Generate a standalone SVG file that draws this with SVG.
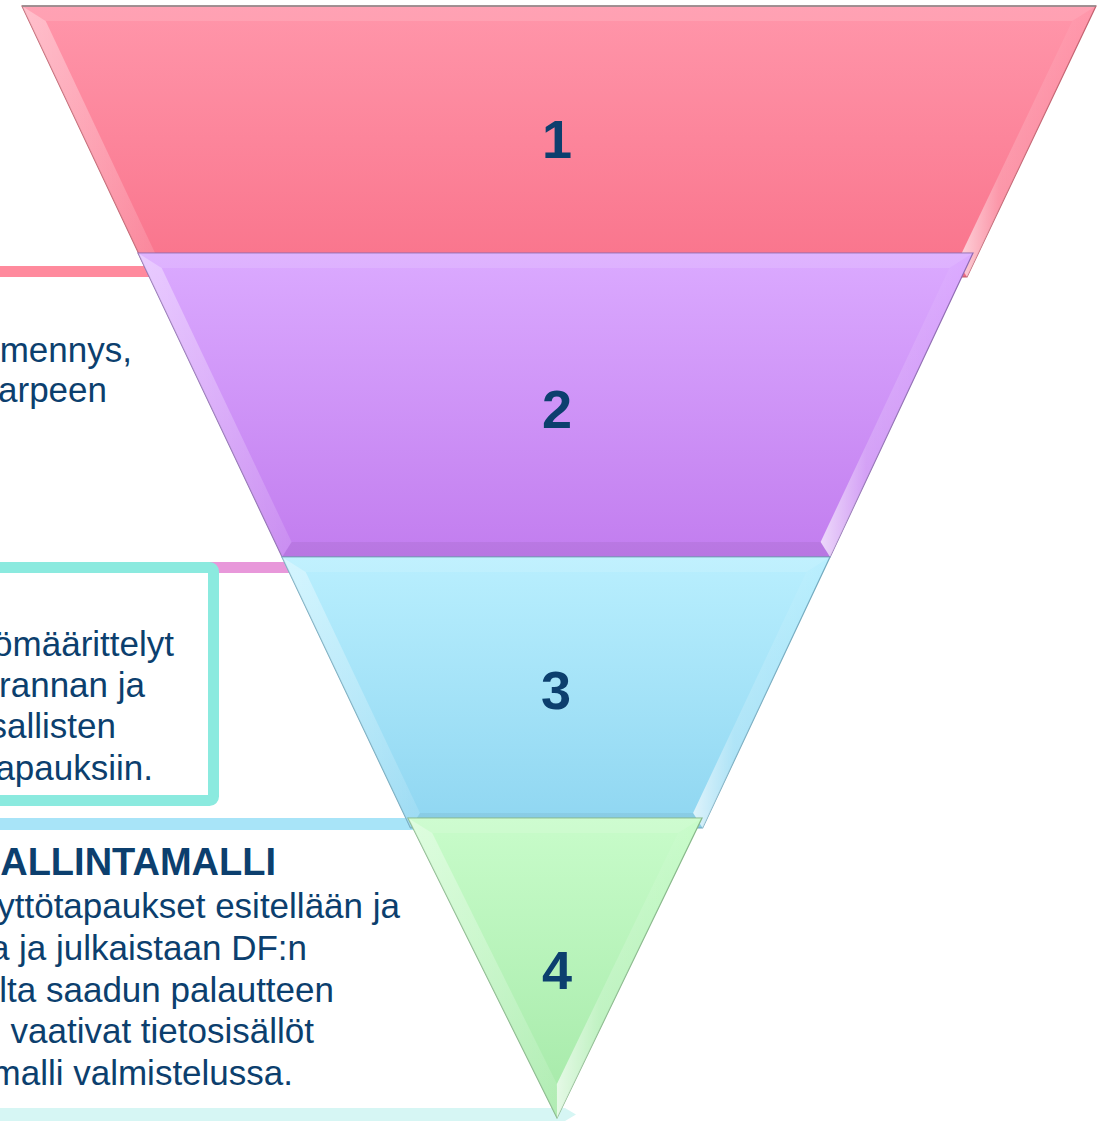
<svg xmlns="http://www.w3.org/2000/svg" width="1102" height="1121" viewBox="0 0 1102 1121">
<defs>
<linearGradient id="gPink" x1="0" y1="0" x2="0" y2="1"><stop offset="0" stop-color="#FF96AA"/><stop offset="1" stop-color="#F9738B"/></linearGradient>
<linearGradient id="gPurple" x1="0" y1="0" x2="0" y2="1"><stop offset="0" stop-color="#DBAAFF"/><stop offset="1" stop-color="#C27DEF"/></linearGradient>
<linearGradient id="gCyan" x1="0" y1="0" x2="0" y2="1"><stop offset="0" stop-color="#B9EFFE"/><stop offset="1" stop-color="#8FD6F1"/></linearGradient>
<linearGradient id="gGreen" x1="0" y1="0" x2="0" y2="1"><stop offset="0" stop-color="#C8FCCA"/><stop offset="1" stop-color="#A5E9A8"/></linearGradient>
<linearGradient id="gL" x1="0" y1="0" x2="1" y2="0"><stop offset="0" stop-color="#fff" stop-opacity="0.4"/><stop offset="1" stop-color="#fff" stop-opacity="0.12"/></linearGradient>
<linearGradient id="gR" x1="0" y1="0" x2="1" y2="0"><stop offset="0" stop-color="#fff" stop-opacity="0.7"/><stop offset="0.3" stop-color="#fff" stop-opacity="0.2"/><stop offset="1" stop-color="#fff" stop-opacity="0"/></linearGradient>
<style>
.txt{font-family:"Liberation Sans",Arial,sans-serif;font-size:35px;fill:#0C3F6E;text-anchor:end}
.ttl{font-family:"Liberation Sans",Arial,sans-serif;font-size:38px;font-weight:bold;fill:#0C3F6E;text-anchor:end}
.num{font-family:"Liberation Sans",Arial,sans-serif;font-size:54px;font-weight:bold;fill:#0C3F6E;text-anchor:middle}
.ft{fill:#fff;opacity:.12}
.fl{fill:url(#gL)}
.fr{fill:url(#gR)}
.fb{fill:#000;opacity:.05}
</style>
</defs>
<rect width="1102" height="1121" fill="#fff"/>
<g id="connectors">
<rect x="0" y="266" width="160" height="11" fill="#FF8A9D"/>
<rect x="0" y="562" width="295" height="11" fill="#E898DA"/>
<rect x="-20" y="567.5" width="233.5" height="233" rx="4" fill="#fff" stroke="#8BEADF" stroke-width="11"/>
<rect x="0" y="818" width="420" height="12" fill="#A8E4F8"/>
<polygon points="0,1108 565,1108 576,1114.5 565,1121 0,1121" fill="#D6F6F4"/>
</g>
<g id="box1">
<text class="txt" x="132" y="362">mennys,</text>
<text class="txt" x="107" y="402">arpeen</text>
</g>
<g id="box2">
<text class="txt" x="174" y="656">ömäärittelyt</text>
<text class="txt" x="145" y="697">rannan ja</text>
<text class="txt" x="116" y="738">sallisten</text>
<text class="txt" x="153" y="780">apauksiin.</text>
</g>
<g id="box3">
<text class="ttl" x="276" y="875">HALLINTAMALLI</text>
<text class="txt" x="400" y="918">yttötapaukset esitellään ja</text>
<text class="txt" x="307" y="960">a ja julkaistaan DF:n</text>
<text class="txt" x="334" y="1002">lta saadun palautteen</text>
<text class="txt" x="314" y="1043">. vaativat tietosisällöt</text>
<text class="txt" x="293" y="1085">malli valmistelussa.</text>
</g>
<g id="seg1">
<polygon points="22,6 1096,6 967,277 149.8,277" fill="url(#gPink)" stroke="#C5606F" stroke-width="1.2"/>
<polygon class="ft" points="22,6 1096,6 1072.3,21 45.7,21"/>
<polygon class="fl" points="22,6 45.7,21 159.3,262 149.8,277"/>
<polygon class="fr" points="1096,6 967,277 957.5,262 1072.3,21"/>
<polygon class="fb" points="149.8,277 159.3,262 957.5,262 967,277"/>
<line x1="22" y1="6" x2="1096" y2="6" stroke="#8a8a8a" stroke-width="1.5"/>
<text class="num" x="557" y="158">1</text>
</g>
<g id="seg2">
<polygon points="138,253 973,253 830.1,557 282.1,557" fill="url(#gPurple)" stroke="#8F6AB3" stroke-width="1.2"/>
<polygon class="ft" points="138,253 973,253 949.4,268 161.7,268"/>
<polygon class="fl" points="138,253 161.7,268 291.6,542 282.1,557"/>
<polygon class="fr" points="973,253 830.1,557 820.6,542 949.4,268"/>
<polygon class="fb" points="282.1,557 291.6,542 820.6,542 830.1,557"/>
<text class="num" x="557" y="428">2</text>
</g>
<g id="seg3">
<polygon points="282,557 830,557 702.6,828 410.5,828" fill="url(#gCyan)" stroke="#72AABF" stroke-width="1.2"/>
<polygon class="ft" points="282,557 830,557 806.4,572 305.7,572"/>
<polygon class="fl" points="282,557 305.7,572 420,813 410.5,828"/>
<polygon class="fr" points="830,557 702.6,828 693.1,813 806.4,572"/>
<polygon class="fb" points="410.5,828 420,813 693.1,813 702.6,828"/>
<text class="num" x="556" y="709">3</text>
</g>
<g id="seg4">
<polygon points="408,818 702,818 557,1118" fill="url(#gGreen)" stroke="#86B888" stroke-width="1.2"/>
<polygon class="ft" points="408,818 702,818 678.1,833 432.2,833"/>
<polygon class="fl" points="408,818 432.2,833 556.9,1083.9 557,1118"/>
<polygon class="fr" points="702,818 557,1118 556.9,1083.9 678.1,833"/>
<text class="num" x="557" y="989">4</text>
</g>
</svg>
